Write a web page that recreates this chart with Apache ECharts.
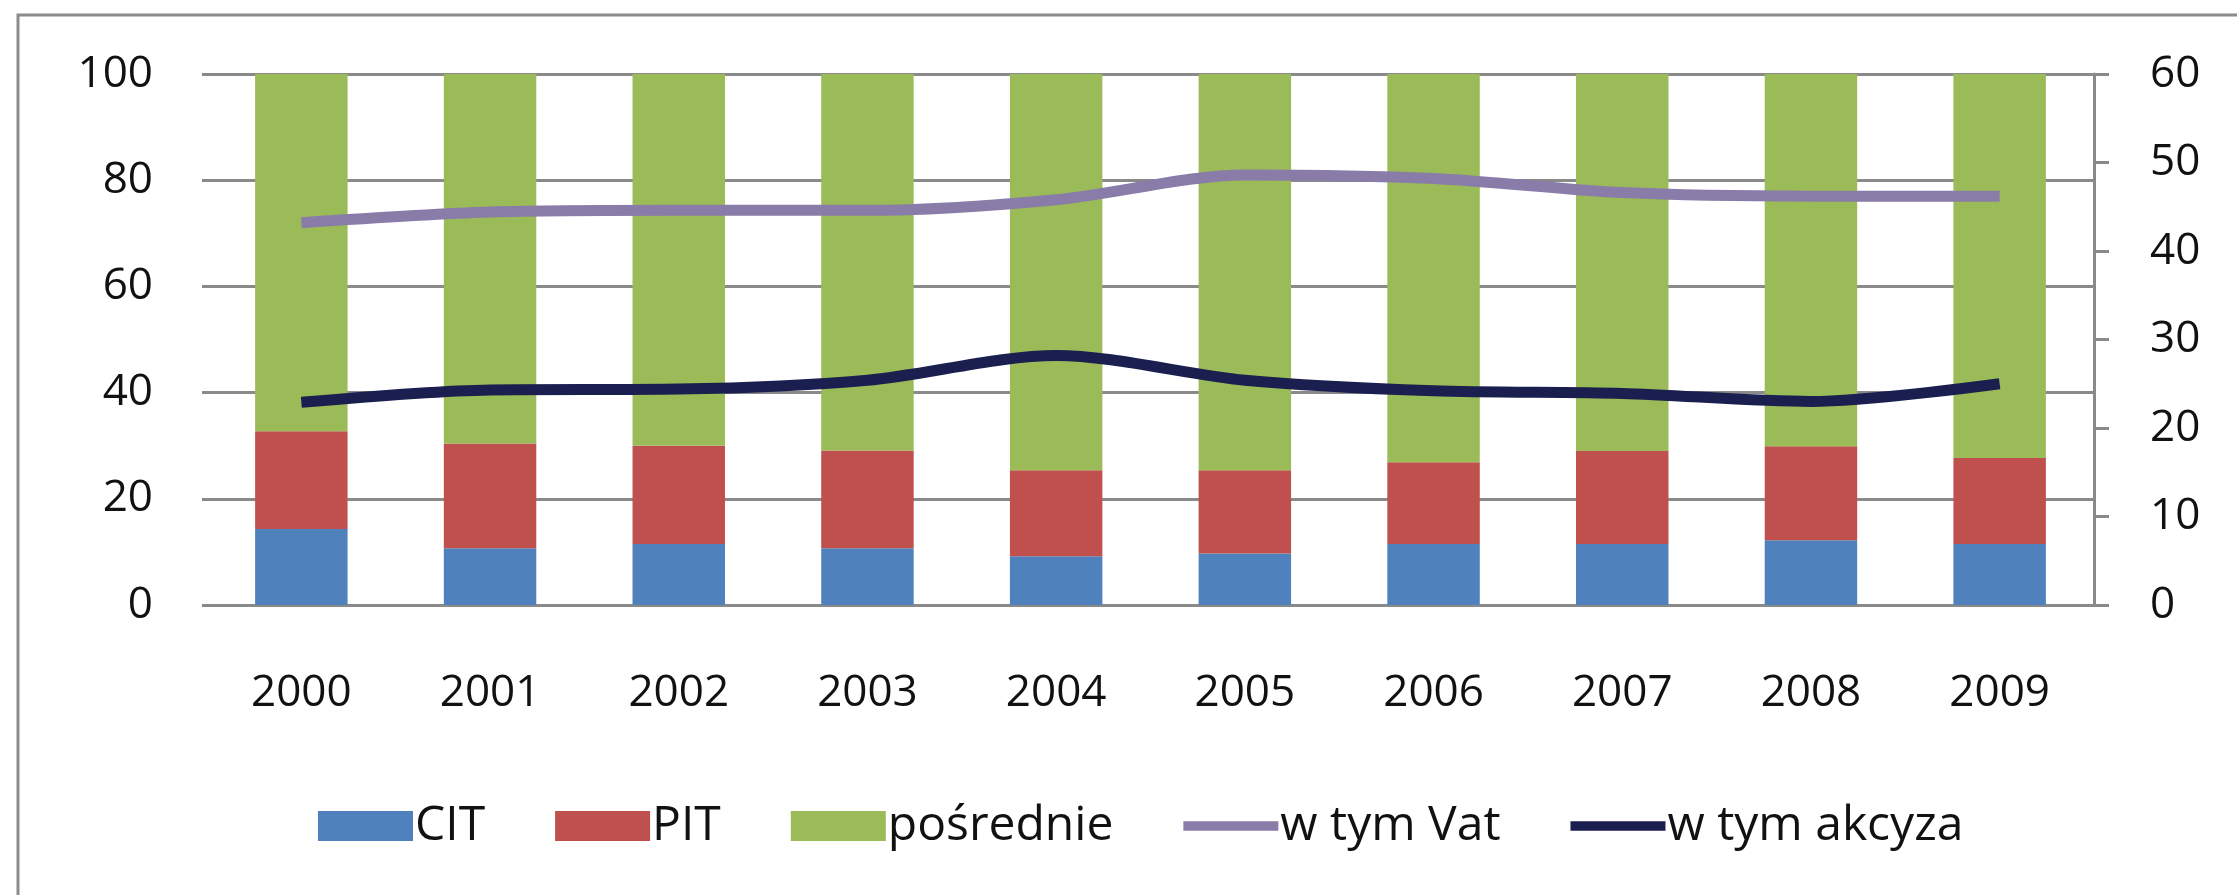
<!DOCTYPE html>
<html>
<head>
<meta charset="utf-8">
<script src="https://cdn.jsdelivr.net/npm/echarts@6/dist/echarts.min.js"></script>
<style>
  html, body { margin: 0; padding: 0; background: #fff; }
  #chart { width: 2237px; height: 895px; }
</style>
</head>
<body>
<div id="chart"></div>
<script>
const years = ['2000', '2001', '2002', '2003', '2004', '2005', '2006', '2007', '2008', '2009']

// udział w dochodach (lewa oś, %)
const cit = [14.3, 10.7, 11.5, 10.7, 9.2, 9.7, 11.5, 11.5, 12.2, 11.5]
const pit = [18.4, 19.7, 18.5, 18.4, 16.2, 15.7, 15.4, 17.5, 17.7, 16.2]
const posrednie = [67.3, 69.6, 70.0, 70.9, 74.6, 74.6, 73.1, 71.0, 70.1, 72.3]

// prawa oś
const vat = [43.2, 44.4, 44.6, 44.6, 45.8, 48.6, 48.2, 46.6, 46.2, 46.2]
const akcyza = [22.9, 24.3, 24.4, 25.4, 28.2, 25.4, 24.2, 23.9, 23.0, 25.0]

const leftTicks = { min: 0, max: 100, interval: 20 }
const rightTicks = { min: 0, max: 60, interval: 10 }

const font = '"Open Sans", sans-serif'
const textColor = '#111'
const gridColor = '#8a8a8a'
const lineIcon = 'path://M0,0H100V10H0Z'

const chart = echarts.init(document.getElementById('chart'))

const option = {
  animation: false,
  backgroundColor: '#fff',
  textStyle: { fontFamily: font },
  graphic: [
    {
      type: 'rect',
      shape: { x: 18, y: 15, width: 2300, height: 1000 },
      style: { fill: 'none', stroke: '#8c8c8c', lineWidth: 3 }
    }
  ],
  grid: {
    left: 207,
    right: 143,
    top: 74,
    bottom: 290
  },
  legend: {
    left: 313,
    top: 797,
    itemWidth: 95,
    itemHeight: 30,
    itemGap: 70,
    textStyle: { fontFamily: font, fontSize: 48, color: textColor, padding: [0, 0, 0, -3] },
    data: [
      { name: 'CIT', icon: 'rect' },
      { name: 'PIT', icon: 'rect' },
      { name: 'pośrednie', icon: 'rect' },
      { name: 'w tym Vat', icon: lineIcon },
      { name: 'w tym akcyza', icon: lineIcon }
    ]
  },
  xAxis: {
    type: 'category',
    data: years,
    axisLine: { lineStyle: { color: gridColor, width: 3 } },
    axisTick: { show: false },
    axisLabel: { color: textColor, fontSize: 44, margin: 66, fontFamily: font }
  },
  yAxis: [
    {
      type: 'value',
      min: leftTicks.min,
      max: leftTicks.max,
      interval: leftTicks.interval,
      axisLine: { show: false },
      axisTick: { show: true, length: 5, lineStyle: { color: gridColor, width: 3 } },
      axisLabel: { color: textColor, fontSize: 44, margin: 54, fontFamily: font },
      splitLine: { lineStyle: { color: gridColor, width: 3 } }
    },
    {
      type: 'value',
      position: 'right',
      min: rightTicks.min,
      max: rightTicks.max,
      interval: rightTicks.interval,
      axisLine: { show: true, lineStyle: { color: gridColor, width: 3 } },
      axisTick: { show: true, length: 15, lineStyle: { color: gridColor, width: 3 } },
      axisLabel: { color: textColor, fontSize: 44, margin: 56, fontFamily: font },
      splitLine: { show: false }
    }
  ],
  series: [
    {
      name: 'CIT',
      type: 'bar',
      stack: 'dochody',
      barWidth: '49%',
      itemStyle: { color: '#4f81bd' },
      data: cit
    },
    {
      name: 'PIT',
      type: 'bar',
      stack: 'dochody',
      itemStyle: { color: '#c0504d' },
      data: pit
    },
    {
      name: 'pośrednie',
      type: 'bar',
      stack: 'dochody',
      itemStyle: { color: '#9bbb59' },
      data: posrednie
    },
    {
      name: 'w tym Vat',
      type: 'line',
      yAxisIndex: 1,
      smooth: 0.3,
      symbol: 'none',
      itemStyle: { color: '#8a7ca8' },
      lineStyle: { color: '#8a7ca8', width: 11 },
      data: vat
    },
    {
      name: 'w tym akcyza',
      type: 'line',
      yAxisIndex: 1,
      smooth: 0.3,
      symbol: 'none',
      itemStyle: { color: '#1b1f4f' },
      lineStyle: { color: '#1b1f4f', width: 11 },
      data: akcyza
    }
  ]
}

chart.setOption(option)
</script>
</body>
</html>
